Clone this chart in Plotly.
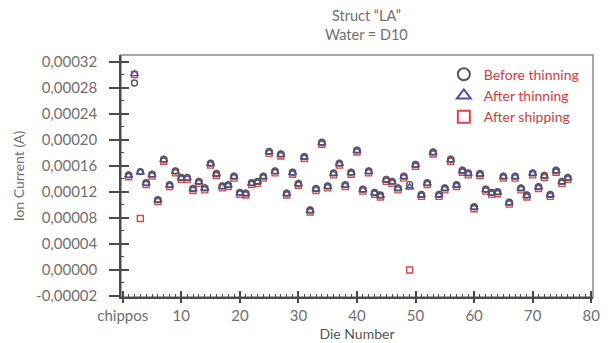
import plotly.graph_objects as go

die = list(range(1, 77))

before_thinning = [
    0.000146, 0.000287, 0.000151, 0.000134, 0.000147, 0.000108, 0.000170, 0.000131, 0.000152, 0.000142,
    0.000142, 0.000125, 0.000136, 0.000126, 0.000164, 0.000148, 0.000129, 0.000131, 0.000144, 0.000119,
    0.000118, 0.000134, 0.000136, 0.000144, 0.000182, 0.000152, 0.000178, 0.000118, 0.000150, 0.000133,
    0.000174, 0.000092, 0.000125, 0.000196, 0.000129, 0.000149, 0.000164, 0.000131, 0.000150, 0.000184,
    0.000124, 0.000152, 0.000119, 0.000115, 0.000139, 0.000136, 0.000126, 0.000144, 0.000131, 0.000162,
    0.000116, 0.000134, 0.000181, 0.000116, 0.000126, 0.000170, 0.000131, 0.000153, 0.000149, 0.000097,
    0.000148, 0.000124, 0.000119, 0.000120, 0.000144, 0.000104, 0.000144, 0.000126, 0.000115, 0.000149,
    0.000128, 0.000145, 0.000116, 0.000153, 0.000136, 0.000142,
]

after_thinning = [
    0.000145, 0.000301, 0.000150, 0.000133, 0.000146, 0.000107, 0.000169, 0.000130, 0.000151, 0.000141,
    0.000141, 0.000124, 0.000135, 0.000125, 0.000163, 0.000147, 0.000128, 0.000130, 0.000143, 0.000118,
    0.000117, 0.000133, 0.000135, 0.000143, 0.000181, 0.000151, 0.000177, 0.000117, 0.000149, 0.000132,
    0.000173, 0.000091, 0.000124, 0.000195, 0.000128, 0.000148, 0.000163, 0.000130, 0.000149, 0.000183,
    0.000123, 0.000151, 0.000118, 0.000114, 0.000138, 0.000135, 0.000125, 0.000143, 0.000127, 0.000161,
    0.000115, 0.000133, 0.000180, 0.000115, 0.000125, 0.000169, 0.000130, 0.000152, 0.000148, 0.000096,
    0.000147, 0.000123, 0.000118, 0.000119, 0.000143, 0.000103, 0.000143, 0.000125, 0.000114, 0.000148,
    0.000127, 0.000144, 0.000115, 0.000152, 0.000135, 0.000141,
]

after_shipping = [
    0.000143, 0.000300, 0.000079, 0.000131, 0.000144, 0.000105, 0.000167, 0.000128, 0.000149, 0.000139,
    0.000139, 0.000122, 0.000133, 0.000123, 0.000161, 0.000145, 0.000126, 0.000128, 0.000141, 0.000116,
    0.000115, 0.000131, 0.000133, 0.000141, 0.000179, 0.000149, 0.000175, 0.000115, 0.000147, 0.000130,
    0.000171, 0.000089, 0.000122, 0.000193, 0.000126, 0.000146, 0.000161, 0.000128, 0.000147, 0.000181,
    0.000121, 0.000149, 0.000116, 0.000112, 0.000136, 0.000133, 0.000123, 0.000141, 0.000000, 0.000159,
    0.000113, 0.000131, 0.000178, 0.000113, 0.000123, 0.000167, 0.000128, 0.000150, 0.000146, 0.000094,
    0.000145, 0.000121, 0.000116, 0.000117, 0.000141, 0.000101, 0.000141, 0.000123, 0.000112, 0.000146,
    0.000125, 0.000142, 0.000113, 0.000150, 0.000133, 0.000139,
]

x_tickvals = [0, 10, 20, 30, 40, 50, 60, 70, 80]
x_ticktext = ["chippos", "10", "20", "30", "40", "50", "60", "70", "80"]
y_tickvals = [-0.00004, 0.0, 0.00004, 0.00008, 0.00012, 0.00016, 0.00020, 0.00024, 0.00028, 0.00032]
y_ticktext = ["-0,00002", "0,00000", "0,00004", "0,00008", "0,00012", "0,00016",
              "0,00020", "0,00024", "0,00028", "0,00032"]

FONT = "Lato"
GREY = "#707070"
RED = "#d33a3f"
AX = "#4a4a4a"
XR = [-0.3, 80.3]
YR = [-0.0000415, 0.00033]

fig = go.Figure()
fig.add_trace(go.Scatter(
    x=die, y=after_shipping, mode="markers", name="After shipping",
    marker=dict(symbol="square-open", size=6, color="#d9464b", line=dict(width=1.4)),
))
fig.add_trace(go.Scatter(
    x=die, y=after_thinning, mode="markers", name="After thinning",
    marker=dict(symbol="triangle-up-open", size=7, color="#4a4fb0", line=dict(width=1.4)),
))
fig.add_trace(go.Scatter(
    x=die, y=before_thinning, mode="markers", name="Before thinning",
    marker=dict(symbol="circle-open", size=6, color="#555555", line=dict(width=1.4)),
))

common_x = dict(range=XR, showgrid=False, zeroline=False, fixedrange=True, automargin=False)
common_y = dict(range=YR, showgrid=False, zeroline=False, fixedrange=True, automargin=False)

fig.update_layout(
    width=608, height=343,
    margin=dict(l=121, r=15, t=55, b=46),
    paper_bgcolor="white", plot_bgcolor="white",
    font=dict(family=FONT, color=GREY, size=15),
    showlegend=True,
    legend=dict(x=0.684, y=0.985, xanchor="left", yanchor="top", traceorder="reversed",
                bgcolor="rgba(0,0,0,0)", font=dict(family=FONT, size=14, color=RED),
                itemsizing="constant", tracegroupgap=0, itemwidth=30),
    xaxis=dict(**common_x, tickvals=x_tickvals, ticktext=x_ticktext,
               showline=True, linecolor=AX, linewidth=1.5, mirror=False,
               ticks="outside", ticklen=4, tickwidth=1.5, tickcolor=AX, ticklabelstandoff=0,
               minor=dict(ticks="inside", dtick=1, ticklen=3, tickcolor=AX, tickwidth=1),
               tickfont=dict(size=15, color=GREY),
               title=dict(text="Die Number", standoff=6, font=dict(size=14, color="#555555"))),
    yaxis=dict(**common_y, tickvals=y_tickvals, ticktext=y_ticktext,
               showline=True, linecolor=AX, linewidth=1.5, mirror=False,
               ticks="outside", ticklen=10, tickwidth=1.5, tickcolor=AX, ticklabelstandoff=9,
               minor=dict(ticks="inside", tickvals=[-0.00002, 0.00002, 0.00006, 0.00010, 0.00014,
                                                     0.00018, 0.00022, 0.00026, 0.00030],
                          ticklen=3, tickcolor=AX, tickwidth=1),
               tickfont=dict(size=15, color=GREY),
               title=dict(text="Ion Current (A)", standoff=8, font=dict(size=14, color=GREY))),
    xaxis2=dict(**common_x, overlaying="x", anchor="y", side="bottom", tickvals=x_tickvals,
                showticklabels=False, ticks="inside", ticklen=6, tickwidth=1.5, tickcolor=AX,
                showline=False),
    yaxis2=dict(**common_y, overlaying="y", anchor="x", side="left", tickvals=y_tickvals,
                showticklabels=False, ticks="inside", ticklen=8, tickwidth=1.5, tickcolor=AX,
                showline=False),
    shapes=[dict(type="rect", xref="paper", yref="paper", x0=0, x1=1, y0=0, y1=1,
                 line=dict(color="#8a8a8a", width=1.5), layer="below")],
    annotations=[dict(text="Struct “LA”<br>Water = D10", xref="paper", yref="paper",
                      x=0.52, y=1.125, xanchor="center", yanchor="middle", showarrow=False,
                      font=dict(family=FONT, size=14.5, color=GREY))],
)
fig.add_trace(go.Scatter(x=[None], y=[None], xaxis="x2", yaxis="y2", showlegend=False,
                         hoverinfo="skip"))

fig.write_html("out.html")
